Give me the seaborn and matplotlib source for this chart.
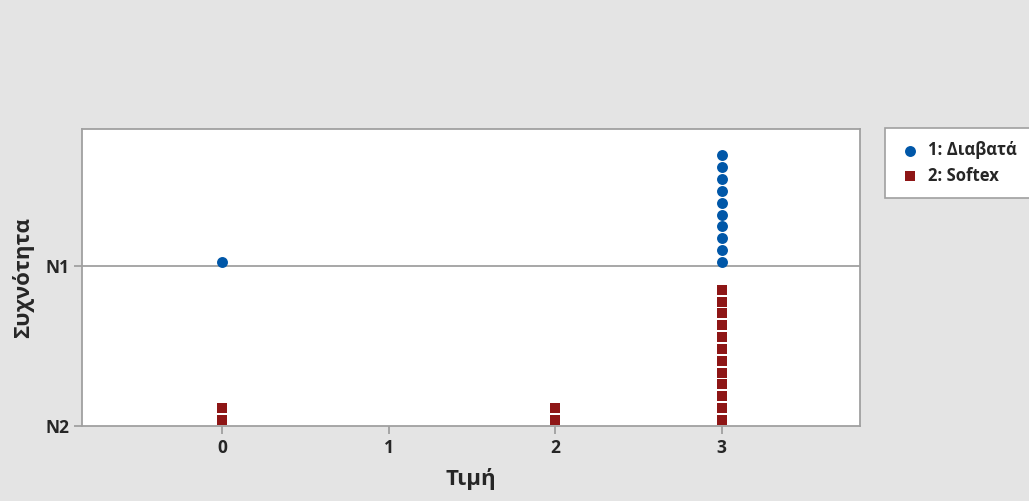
import numpy as np
import pandas as pd
import matplotlib.pyplot as plt
import seaborn as sns

# dot plot data: value -> count for each group
groups = ['1: Διαβατά', '2: Softex']
values_1 = [0, 3]
counts_1 = [1, 10]
values_2 = [0, 2, 3]
counts_2 = [2, 2, 12]

x_ticks = [0, 1, 2, 3]
y_tick_labels = ['N2', 'N1']
colors = ['#0057a8', '#8e1616']

# stack dots: each group has its own baseline (pixel-like units)
step = 11.85
base = {groups[0]: 164.0, groups[1]: 6.0}
rows = []
for g, vals, cnts in [(groups[0], values_1, counts_1), (groups[1], values_2, counts_2)]:
    for v, c in zip(vals, cnts):
        for k in range(c):
            rows.append({'Τιμή': v, 'y': base[g] + k * step, 'group': g})
df = pd.DataFrame(rows)

sns.set_style('white')
plt.rcParams['font.family'] = ['Open Sans', 'DejaVu Sans']

fig = plt.figure(figsize=(10.29, 5.01), dpi=100, facecolor='#e4e4e4')
ax = fig.add_axes([0.0797, 0.1497, 0.7561, 0.5928])
ax.set_facecolor('white')

ax.axhline(160, color='#a0a0a0', lw=1.3, zorder=1)

sns.scatterplot(data=df[df['group'] == groups[0]], x='Τιμή', y='y', color=colors[0],
                marker='o', s=62, linewidth=0, ax=ax, zorder=3, label=groups[0])
sns.scatterplot(data=df[df['group'] == groups[1]], x='Τιμή', y='y', color=colors[1],
                marker='s', s=48, linewidth=0, ax=ax, zorder=3, label=groups[1])

ax.set_xlim(-0.84, 3.83)
ax.set_ylim(0, 297)
ax.set_xticks(x_ticks)
ax.set_xticklabels([str(t) for t in x_ticks], fontsize=12.5, fontweight='bold')
ax.set_yticks([0, 160])
ax.set_yticklabels(y_tick_labels, fontsize=12.5, fontweight='bold')
ax.tick_params(axis='both', length=6, width=1.3, color='#a0a0a0', direction='out', pad=3)
ax.tick_params(axis='x', bottom=True)
ax.tick_params(axis='y', left=True)
for sp in ax.spines.values():
    sp.set_color('#a0a0a0')
    sp.set_linewidth(1.3)

ax.set_xlabel('Τιμή', fontsize=16, fontweight='bold', labelpad=8)
ax.set_ylabel('Συχνότητα', fontsize=16, fontweight='bold', labelpad=8)

leg = ax.legend(loc='upper left', bbox_to_anchor=(885 / 1029, 1 - 128 / 501),
                bbox_transform=fig.transFigure, frameon=True, fancybox=False,
                framealpha=1, borderaxespad=0, prop={'weight': 'bold', 'size': 12},
                handletextpad=0.4, handlelength=1.4, borderpad=0.8, labelspacing=0.45)
leg.get_frame().set_edgecolor('#a0a0a0')
leg.get_frame().set_facecolor('white')
leg.get_frame().set_linewidth(1.2)

fig.savefig('out.png', dpi=100, facecolor=fig.get_facecolor())
